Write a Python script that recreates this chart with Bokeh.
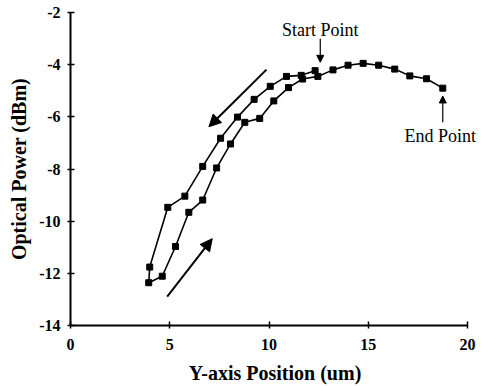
from bokeh.plotting import figure
from bokeh.models import Range1d, Arrow, NormalHead, Label, ColumnDataSource
from bokeh.embed import file_html
from bokeh.resources import INLINE

# Scan path: from start point, left along upper branch, back along lower branch, to end point
pos_um = [12.32, 11.62, 10.88, 10.06, 9.25, 8.41, 7.56, 6.66, 5.76, 4.90, 3.99, 3.94,
          4.62, 5.29, 5.96, 6.66, 7.36, 8.06, 8.78, 9.53, 10.24, 10.98, 11.69, 12.46,
          13.22, 13.98, 14.74, 15.52, 16.33, 17.09, 17.93, 18.75]
power_dbm = [-4.23, -4.41, -4.45, -4.83, -5.33, -6.01, -6.82, -7.90, -9.04, -9.47, -11.76, -12.36,
             -12.11, -10.97, -9.66, -9.19, -7.96, -7.04, -6.21, -6.06, -5.39, -4.88, -4.55, -4.45,
             -4.20, -4.02, -3.95, -4.02, -4.17, -4.43, -4.54, -4.90]

# direction arrows (start x, start y, end x, end y)
dir_x0 = [9.87, 4.87]
dir_y0 = [-4.19, -12.89]
dir_x1 = [6.97, 7.14]
dir_y1 = [-6.38, -10.67]

# annotations
note_text = ["Start Point", "End Point"]
note_x = [12.58, 18.62]
note_y = [-2.67, -6.72]
note_arrow_x = [12.58, 18.75]
note_arrow_y0 = [-3.01, -6.21]
note_arrow_y1 = [-3.91, -5.20]

x_ticks = [0, 5, 10, 15, 20]
y_ticks = [-14, -12, -10, -8, -6, -4, -2]
y_tick_labels = ["-14", "-12", "-10", "-8", "-6", "-4", "-2"]

p = figure(width=486, height=386, output_backend="svg", toolbar_location=None,
           x_range=Range1d(0, 20.6), y_range=Range1d(-14, -2),
           min_border_left=70, min_border_right=7, min_border_top=12, min_border_bottom=58)
p.outline_line_color = None
p.xgrid.visible = False
p.ygrid.visible = False
p.background_fill_color = "white"

src = ColumnDataSource(dict(x=pos_um, y=power_dbm))
p.line("x", "y", source=src, line_color="black", line_width=1.6)
p.scatter("x", "y", source=src, marker="square", size=6, fill_color="black", line_color="black")

for i in range(len(dir_x0)):
    p.add_layout(Arrow(x_start=dir_x0[i], y_start=dir_y0[i], x_end=dir_x1[i], y_end=dir_y1[i],
                       line_width=2, line_color="black",
                       end=NormalHead(size=12, fill_color="black", line_color="black")))

for i in range(len(note_text)):
    p.add_layout(Label(x=note_x[i], y=note_y[i], text=note_text[i], text_align="center",
                       text_baseline="middle", text_font="Liberation Serif",
                       text_font_size="18px", text_color="black"))
    p.add_layout(Arrow(x_start=note_arrow_x[i], y_start=note_arrow_y0[i],
                       x_end=note_arrow_x[i], y_end=note_arrow_y1[i],
                       line_width=1.2, line_color="black",
                       end=NormalHead(size=7, fill_color="black", line_color="black")))

for ax in (p.xaxis[0], p.yaxis[0]):
    ax.axis_line_width = 2
    ax.axis_line_color = "black"
    ax.major_tick_line_width = 1.5
    ax.minor_tick_line_width = 1.2
    ax.major_tick_in = 4
    ax.major_tick_out = 3
    ax.minor_tick_in = 3
    ax.minor_tick_out = 0
    ax.major_label_text_font = "Liberation Serif"
    ax.major_label_text_font_style = "bold"
    ax.major_label_text_font_size = "16px"
    ax.major_label_text_color = "black"
    ax.axis_label_text_font = "Liberation Serif"
    ax.axis_label_text_font_style = "bold"
    ax.axis_label_text_font_size = "20px"
    ax.axis_label_text_color = "black"

p.xaxis.bounds = (0, 20)
p.xaxis.ticker = x_ticks
p.xaxis[0].ticker.num_minor_ticks = 2
p.yaxis.ticker = y_ticks
p.yaxis[0].ticker.num_minor_ticks = 2
p.yaxis.major_label_overrides = {t: s for t, s in zip(y_ticks, y_tick_labels)}
p.xaxis.axis_label = "Y-axis Position (um)"
p.yaxis.axis_label = "Optical Power (dBm)"
p.xaxis.major_label_standoff = 10
p.yaxis.major_label_standoff = 7
p.xaxis.axis_label_standoff = 9
p.yaxis.axis_label_standoff = 6

open("out.html", "w").write(file_html(p, INLINE))
